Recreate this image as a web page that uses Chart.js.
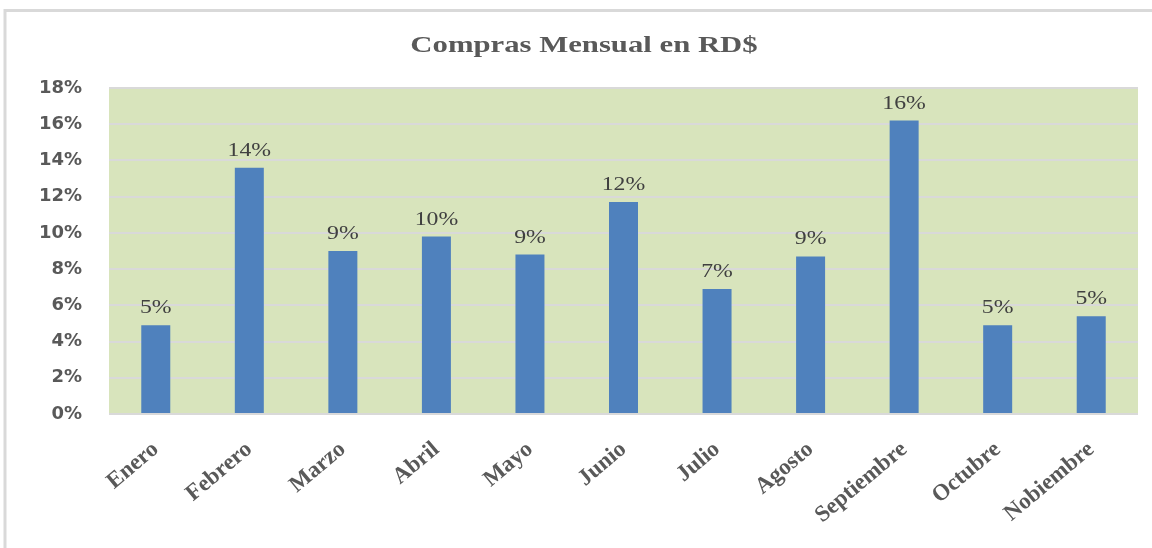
<!DOCTYPE html>
<html>
<head>
<meta charset="utf-8">
<script src="https://cdn.jsdelivr.net/npm/chart.js@4"></script>
<style>
  html, body { margin: 0; padding: 0; background: #fff; }
  #wrap { width: 1152px; height: 548px; position: relative; }
</style>
</head>
<body>
<div id="wrap"><canvas id="comprasChart" width="1152" height="548"></canvas></div>
<script>
const meses = ["Enero", "Febrero", "Marzo", "Abril", "Mayo", "Junio", "Julio", "Agosto", "Septiembre", "Octubre", "Nobiembre"];
const porcentajes = [4.9, 13.6, 9.0, 9.8, 8.8, 11.7, 6.9, 8.7, 16.2, 4.9, 5.4];
const titulo = "Compras Mensual en RD$";
const yMin = 0;
const yMax = 18;
const yStep = 2;

// frame, plot background and title
const fondoPlugin = {
  id: "fondo",
  beforeDraw(chart) {
    const { ctx, chartArea } = chart;
    ctx.save();
    ctx.fillStyle = "#d8e4bc";
    ctx.fillRect(chartArea.left, chartArea.top, chartArea.right - chartArea.left, chartArea.bottom - chartArea.top);
    ctx.strokeStyle = "#d9d9d9";
    ctx.lineWidth = 3;
    ctx.beginPath();
    ctx.moveTo(5, 548);
    ctx.lineTo(5, 10.5);
    ctx.lineTo(1152, 10.5);
    ctx.stroke();
    ctx.restore();
  },
  afterDraw(chart) {
    const { ctx } = chart;
    ctx.save();
    ctx.translate(584, 46);
    ctx.scale(1.28, 1);
    ctx.font = "bold 24px 'Liberation Serif', 'Times New Roman', serif";
    ctx.fillStyle = "#595959";
    ctx.textAlign = "center";
    ctx.textBaseline = "middle";
    ctx.fillText(titulo, 0, 0);
    ctx.restore();
  },
};

// value labels above each bar
const etiquetasPlugin = {
  id: "etiquetas",
  afterDatasetsDraw(chart) {
    const { ctx } = chart;
    const meta = chart.getDatasetMeta(0);
    ctx.save();
    ctx.font = "19px 'Liberation Serif', 'Times New Roman', serif";
    ctx.fillStyle = "#404040";
    ctx.textAlign = "center";
    ctx.textBaseline = "alphabetic";
    meta.data.forEach((bar, i) => {
      ctx.save();
      ctx.translate(bar.x, bar.y - 12);
      ctx.scale(1.25, 1);
      ctx.fillText(Math.round(porcentajes[i]) + "%", 0, 0);
      ctx.restore();
    });
    ctx.restore();
  },
};

new Chart(document.getElementById("comprasChart"), {
  type: "bar",
  data: {
    labels: meses,
    datasets: [
      {
        label: "Compras",
        data: porcentajes,
        backgroundColor: "#4f81bd",
        barPercentage: 0.31,
        categoryPercentage: 1,
      },
    ],
  },
  options: {
    responsive: false,
    animation: false,
    layout: {
      padding: { left: 0, right: 14, top: 88, bottom: 0 },
    },
    plugins: {
      legend: { display: false },
      title: { display: false },
      tooltip: { enabled: false },
    },
    scales: {
      x: {
        grid: { display: false },
        border: { display: false },
        ticks: {
          color: "#595959",
          font: { family: "'Liberation Serif', 'Times New Roman', serif", size: 23, weight: "bold" },
          minRotation: 40,
          maxRotation: 40,
          padding: 14,
          autoSkip: false,
        },
        afterFit(scale) {
          scale.height = 134;
        },
      },
      y: {
        min: yMin,
        max: yMax,
        grid: { color: "#d9d9d9", lineWidth: 2, drawTicks: false },
        border: { display: false },
        ticks: {
          stepSize: yStep,
          color: "#595959",
          padding: 27,
          font: { family: "'DejaVu Sans', Verdana, sans-serif", size: 18, weight: "bold" },
          callback: (val) => val + "%",
        },
        afterFit(scale) {
          scale.width = 109;
        },
      },
    },
  },
  plugins: [fondoPlugin, etiquetasPlugin],
});
</script>
</body>
</html>
